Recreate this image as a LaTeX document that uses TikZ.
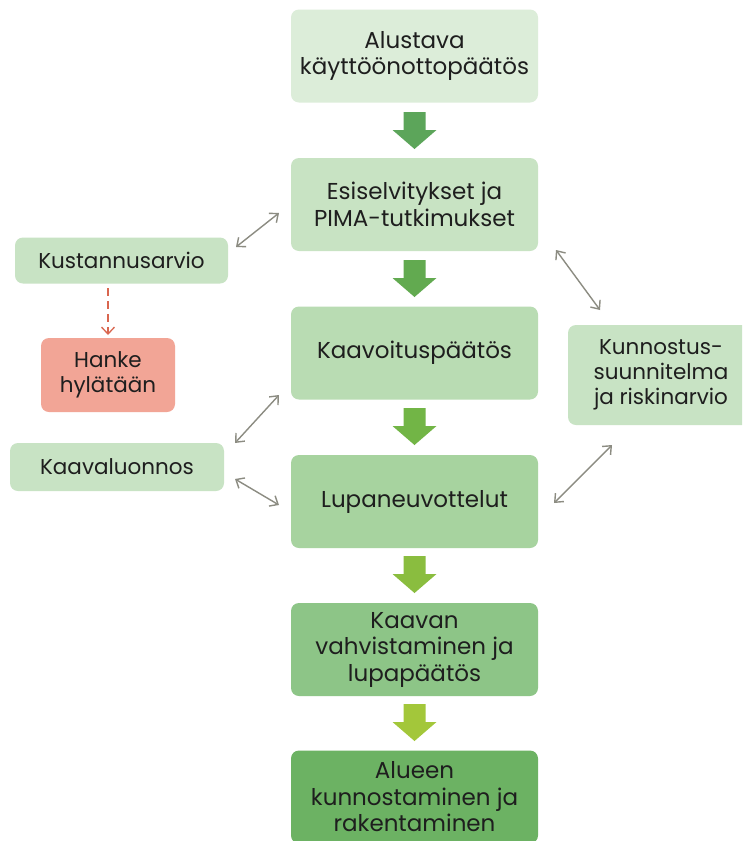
\documentclass[tikz,border=0pt]{standalone}
\usepackage{fontspec}
\setmainfont{Poppins}
\usetikzlibrary{arrows.meta,calc}

\definecolor{stepA}{HTML}{DCEDD9}
\definecolor{stepB}{HTML}{C8E3C3}
\definecolor{stepC}{HTML}{B9DCB3}
\definecolor{stepD}{HTML}{A7D39F}
\definecolor{stepE}{HTML}{8DC587}
\definecolor{stepF}{HTML}{6CB263}
\definecolor{sidegreen}{HTML}{C8E3C4}
\definecolor{reject}{HTML}{F2A596}
\definecolor{flowA}{HTML}{5CA55A}
\definecolor{flowB}{HTML}{62AA50}
\definecolor{flowC}{HTML}{72B546}
\definecolor{flowD}{HTML}{8ABD3F}
\definecolor{flowE}{HTML}{A3C73A}
\definecolor{linkgray}{HTML}{8C8C82}
\definecolor{dashred}{HTML}{D9664F}
\definecolor{inktext}{HTML}{1E1E1E}

\tikzset{
  mainbox/.style={rounded corners=8pt, minimum width=247pt, minimum height=93pt,
    align=center, text=inktext, inner sep=0pt,
    font=\fontsize{23}{26.5}\selectfont},
  sidebox/.style={rounded corners=8pt, align=center, text=inktext, inner sep=0pt,
    font=\fontsize{21.5}{25}\selectfont},
  link/.style={draw=linkgray, line width=1.4pt,
    {Straight Barb[length=7pt,width=12pt]}-{Straight Barb[length=7pt,width=12pt]}},
  blockarrow/.pic={
    \path[pic actions] (-11,0) -- (11,0) -- (11,18) -- (22,18) -- (0,37)
      -- (-22,18) -- (-11,18) -- cycle;}
}

\begin{document}
\begin{tikzpicture}[x=1pt,y=-1pt]
\clip (0,0) rectangle (742,841);
\fill[white] (0,0) rectangle (742,841);

% main column
\node[mainbox, fill=stepA] (b1) at (414.5,56)  {Alustava\\käyttöönottopäätös};
\node[mainbox, fill=stepB] (b2) at (414.5,204.5) {Esiselvitykset ja\\PIMA-tutkimukset};
\node[mainbox, fill=stepC] (b3) at (414.5,353) {Kaavoituspäätös};
\node[mainbox, fill=stepD] (b4) at (414.5,501.5) {Lupaneuvottelut};
\node[mainbox, fill=stepE] (b5) at (414.5,649.5) {Kaavan\\vahvistaminen ja\\lupapäätös};
\node[mainbox, fill=stepF] (b6) at (414.5,797) {Alueen\\kunnostaminen ja\\rakentaminen};

% flow arrows between the steps
\pic[fill=flowA] at (414.5,112) {blockarrow};
\pic[fill=flowB] at (414.5,260) {blockarrow};
\pic[fill=flowC] at (414.5,408) {blockarrow};
\pic[fill=flowD] at (414.5,556) {blockarrow};
\pic[fill=flowE] at (414.5,704) {blockarrow};

% side boxes
\node[sidebox, fill=sidegreen, minimum width=213pt, minimum height=46pt] (kust) at (121.5,260.5) {Kustannusarvio};
\node[sidebox, fill=reject, minimum width=134pt, minimum height=74pt] (hyl) at (108,375) {Hanke\\hylätään};
\node[sidebox, fill=sidegreen, minimum width=214pt, minimum height=48pt] (luon) at (117,467) {Kaavaluonnos};
\node[sidebox, fill=sidegreen, minimum width=186pt, minimum height=100pt] (kunn) at (661,375) {Kunnostus-\\suunnitelma\\ja riskinarvio};

% connector end points
\coordinate (k1) at (236,247);  \coordinate (k2) at (279,213);
\coordinate (r1) at (556,250);  \coordinate (r2) at (600,310);
\coordinate (l1) at (235,443);  \coordinate (l2) at (279,395);
\coordinate (m1) at (235,479);  \coordinate (m2) at (279,505);
\coordinate (s1) at (554,503);  \coordinate (s2) at (612,445);
\coordinate (d1) at (108,288);  \coordinate (d2) at (108,335);

\draw[link] (k1) -- (k2);
\draw[link] (r1) -- (r2);
\draw[link] (l1) -- (l2);
\draw[link] (m1) -- (m2);
\draw[link] (s1) -- (s2);

\draw[draw=dashred, line width=1.3pt, dash pattern=on 8pt off 5pt,
  -{Straight Barb[length=7pt,width=13pt]}] (d1) -- (d2);
\end{tikzpicture}
\end{document}
